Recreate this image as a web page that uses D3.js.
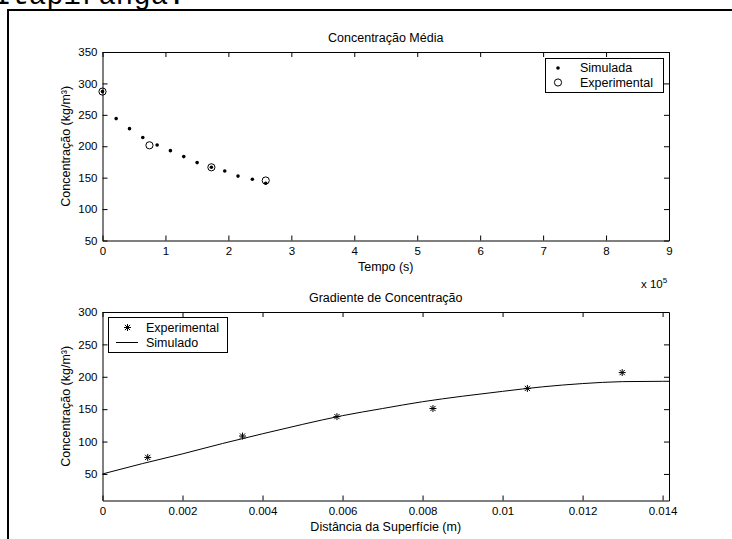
<!DOCTYPE html>
<html>
<head>
<meta charset="utf-8">
<script src="https://cdnjs.cloudflare.com/ajax/libs/d3/7.8.5/d3.min.js"></script>
<style>
  body { margin: 0; background: #fff; }
  text { font-family: "Liberation Sans", Arial, sans-serif; fill: #000; }
</style>
</head>
<body>
<div id="chart"></div>
<script>
let width = 732;
let height = 539;

// top panel: mean concentration over time (x in units of 1e5 s)
let simTime = [0, 0.217, 0.429, 0.640, 0.868, 1.079, 1.291, 1.503, 1.730, 1.942, 2.153, 2.381, 2.593];
let simConc = [287, 244, 228, 214, 202, 193, 183.5, 174, 166.5, 160.5, 152.5, 147.5, 141];
let expTime = [0, 0.746, 1.730, 2.593];
let expConc = [287, 201.5, 166.5, 145.5];
let topXTicks = [0, 1, 2, 3, 4, 5, 6, 7, 8, 9];
let topYTicks = [50, 100, 150, 200, 250, 300, 350];

// bottom panel: concentration gradient vs distance from surface
let expDist = [0.00113, 0.0035, 0.00586, 0.00826, 0.01062, 0.01299];
let expGrad = [75.5, 108.5, 138.5, 151, 182, 206.5];
let simDist = [0, 0.001, 0.002, 0.003, 0.004, 0.005, 0.006, 0.007, 0.008, 0.009, 0.010, 0.011, 0.012, 0.013, 0.014, 0.01416];
let simGrad = [50, 66, 81, 97, 112, 126.5, 140, 151, 161.5, 170, 177.5, 184.5, 189.5, 192.5, 193, 193];
let botXTicks = [0, 0.002, 0.004, 0.006, 0.008, 0.010, 0.012, 0.014];
let botYTicks = [50, 100, 150, 200, 250, 300];

let svg = d3.select("#chart").append("svg")
    .attr("width", width)
    .attr("height", height);

svg.append("rect").attr("width", width).attr("height", height).attr("fill", "#fff");

// bits of the surrounding document
svg.append("text")
    .attr("x", -6).attr("y", 4)
    .style("font-family", "'Liberation Mono', 'Courier New', monospace")
    .style("font-size", "29px")
    .text("Itapiranga:");

svg.append("path")
    .attr("d", "M8,545V10H740")
    .attr("fill", "none")
    .attr("stroke", "#000")
    .attr("stroke-width", 2);

let left = 102.5, right = 669;
let labelSize = "12.5px";

function panel(cfg) {
    let g = svg.append("g");
    let x = d3.scaleLinear().domain(cfg.xDomain).range([left, right]);
    let y = d3.scaleLinear().domain(cfg.yDomain).range([cfg.bottom, cfg.top]);

    g.append("g")
        .attr("transform", "translate(0," + cfg.bottom + ")")
        .call(d3.axisBottom(x).tickValues(cfg.xTicks).tickSize(-5).tickSizeOuter(0).tickPadding(6).tickFormat(cfg.xFormat));
    g.append("g")
        .attr("transform", "translate(" + left + ",0)")
        .call(d3.axisLeft(y).tickValues(cfg.yTicks).tickSize(-5).tickSizeOuter(0).tickPadding(5));
    g.append("g")
        .attr("transform", "translate(0," + cfg.top + ")")
        .call(d3.axisTop(x).tickValues(cfg.xTicks).tickSize(-5).tickSizeOuter(0).tickFormat(""));
    g.append("g")
        .attr("transform", "translate(" + right + ",0)")
        .call(d3.axisRight(y).tickValues(cfg.yTicks).tickSize(-5).tickSizeOuter(0).tickFormat(""));

    g.selectAll(".tick text").style("font-size", "11.5px").style("font-family", "'Liberation Sans', Arial, sans-serif");
    g.selectAll(".domain").attr("stroke", "#000");
    g.selectAll(".tick line").attr("stroke", "#000");

    g.append("text")
        .attr("x", (left + right) / 2).attr("y", cfg.top - 10)
        .attr("text-anchor", "middle").style("font-size", labelSize)
        .text(cfg.title);
    g.append("text")
        .attr("x", (left + right) / 2).attr("y", cfg.bottom + 30)
        .attr("text-anchor", "middle").style("font-size", labelSize)
        .text(cfg.xLabel);
    g.append("text")
        .attr("transform", "translate(70," + ((cfg.top + cfg.bottom) / 2) + ") rotate(-90)")
        .attr("text-anchor", "middle").style("font-size", labelSize)
        .text("Concentração (kg/m³)");

    return {g: g, x: x, y: y};
}

// ---------- top panel ----------
let p1 = panel({
    xDomain: [0, 9], yDomain: [50, 350], top: 52, bottom: 240.5,
    xTicks: topXTicks, yTicks: topYTicks, xFormat: d3.format("d"),
    title: "Concentração Média", xLabel: "Tempo (s)"
});

p1.g.selectAll(".sim")
    .data(simTime)
    .enter().append("circle")
    .attr("cx", (d, i) => p1.x(d))
    .attr("cy", (d, i) => p1.y(simConc[i]))
    .attr("r", 1.8)
    .attr("fill", "#000");

p1.g.selectAll(".exp")
    .data(expTime)
    .enter().append("circle")
    .attr("cx", (d, i) => p1.x(d))
    .attr("cy", (d, i) => p1.y(expConc[i]))
    .attr("r", 3.6)
    .attr("fill", "none")
    .attr("stroke", "#000")
    .attr("stroke-width", 1);

let xExp = p1.g.append("text").attr("x", 641).attr("y", 288).style("font-size", "11.5px");
xExp.append("tspan").text("x 10");
xExp.append("tspan").attr("dy", -5).style("font-size", "8px").text("5");

// legend
let lg1 = p1.g.append("g");
lg1.append("rect").attr("x", 545.5).attr("y", 58.5).attr("width", 118).attr("height", 34)
    .attr("fill", "#fff").attr("stroke", "#000");
lg1.append("circle").attr("cx", 558).attr("cy", 68).attr("r", 1.8).attr("fill", "#000");
lg1.append("circle").attr("cx", 558).attr("cy", 82.5).attr("r", 3.6).attr("fill", "none").attr("stroke", "#000");
lg1.append("text").attr("x", 580).attr("y", 72).style("font-size", labelSize).text("Simulada");
lg1.append("text").attr("x", 580).attr("y", 86.5).style("font-size", labelSize).text("Experimental");

// ---------- bottom panel ----------
let p2 = panel({
    xDomain: [0, 0.01416], yDomain: [9, 300], top: 312, bottom: 500.5,
    xTicks: botXTicks, yTicks: botYTicks, xFormat: d => String(+d.toFixed(3)),
    title: "Gradiente de Concentração", xLabel: "Distância da Superfície (m)"
});

let line = d3.line()
    .x((d, i) => p2.x(d))
    .y((d, i) => p2.y(simGrad[i]))
    .curve(d3.curveMonotoneX);

p2.g.append("path")
    .datum(simDist)
    .attr("d", line)
    .attr("fill", "none")
    .attr("stroke", "#000")
    .attr("stroke-width", 1);

function star(gr, cx, cy) {
    let s = 3.5, t = 2.6;
    gr.append("path")
        .attr("d", `M${cx},${cy - s}V${cy + s}M${cx - s},${cy}H${cx + s}M${cx - t},${cy - t}L${cx + t},${cy + t}M${cx - t},${cy + t}L${cx + t},${cy - t}`)
        .attr("stroke", "#000").attr("stroke-width", 1).attr("fill", "none");
}

expDist.forEach((d, i) => star(p2.g, p2.x(d), p2.y(expGrad[i])));

// legend
let lg2 = p2.g.append("g");
lg2.append("rect").attr("x", 108.5).attr("y", 317.5).attr("width", 119).attr("height", 35)
    .attr("fill", "#fff").attr("stroke", "#000");
star(lg2, 127.5, 327.5);
lg2.append("line").attr("x1", 116).attr("x2", 138).attr("y1", 342.5).attr("y2", 342.5).attr("stroke", "#000");
lg2.append("text").attr("x", 146).attr("y", 331.5).style("font-size", labelSize).text("Experimental");
lg2.append("text").attr("x", 146).attr("y", 346.5).style("font-size", labelSize).text("Simulado");
</script>
</body>
</html>
